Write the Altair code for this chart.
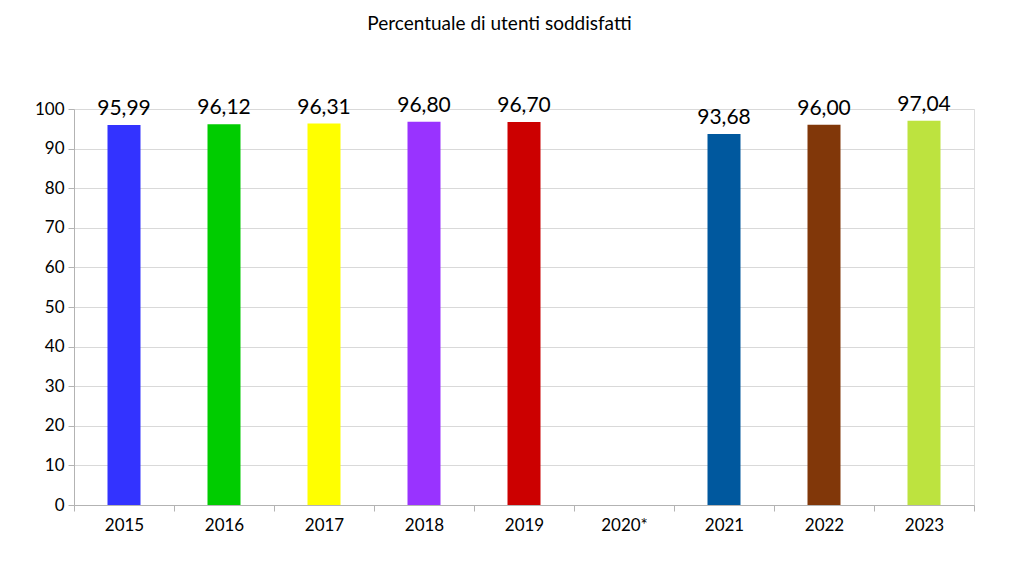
import altair as alt
import pandas as pd

years = ["2015", "2016", "2017", "2018", "2019", "2020*", "2021", "2022", "2023"]
values = [95.99, 96.12, 96.31, 96.80, 96.70, None, 93.68, 96.00, 97.04]
labels = ["95,99", "96,12", "96,31", "96,80", "96,70", "", "93,68", "96,00", "97,04"]
colors = ["#3333FF", "#00CC00", "#FFFF00", "#9933FF", "#CC0000", "#FFFFFF", "#00589E", "#813709", "#BDE33F"]
y_ticks = [0, 10, 20, 30, 40, 50, 60, 70, 80, 90, 100]

df = pd.DataFrame({"anno": years, "valore": values, "etichetta": labels, "colore": colors})
df_bars = df[df["valore"].notna()]

FONT = "Lato"

x = alt.X("anno:N", sort=years,
          scale=alt.Scale(domain=years, paddingInner=0, paddingOuter=0),
          axis=alt.Axis(title=None, labelAngle=0, labelFont=FONT, labelFontSize=17,
                        labelColor="#000000", labelPadding=6, tickBand="extent",
                        tickColor="#b3b3b3", tickSize=6, domainColor="#b3b3b3",
                        grid=False, labelOverlap=False))
y = alt.Y("valore:Q", scale=alt.Scale(domain=[0, 100], nice=False),
          axis=alt.Axis(title=None, values=y_ticks, labelFont=FONT,
                        labelFontSize=17, labelColor="#000000", labelPadding=4,
                        tickColor="#b3b3b3", tickSize=6, domainColor="#b3b3b3",
                        gridColor="#d9d9d9", labelOverlap=False, labelFlush=False))

bars = alt.Chart(df_bars).mark_bar(width=alt.RelativeBandSize(0.33)).encode(
    x=x, y=y, color=alt.Color("colore:N", scale=None))

text = alt.Chart(df_bars).mark_text(font=FONT, fontSize=21, baseline="bottom", dy=-6,
                                    color="#000000").encode(
    x=x, y=y, text="etichetta:N")

chart = (bars + text).properties(
    width=900, height=396,
    title=alt.TitleParams("Percentuale di utenti soddisfatti", font=FONT, fontSize=19,
                          fontWeight="normal", color="#000000", anchor="middle",
                          frame="bounds", offset=60, dx=-5),
    padding={"left": 66, "top": 101, "right": 27, "bottom": 47},
    autosize=alt.AutoSizeParams(type="none"),
).configure_view(stroke=None).configure(background="#ffffff")

chart.save("out.html", embed_options={"renderer": "svg", "actions": False})
